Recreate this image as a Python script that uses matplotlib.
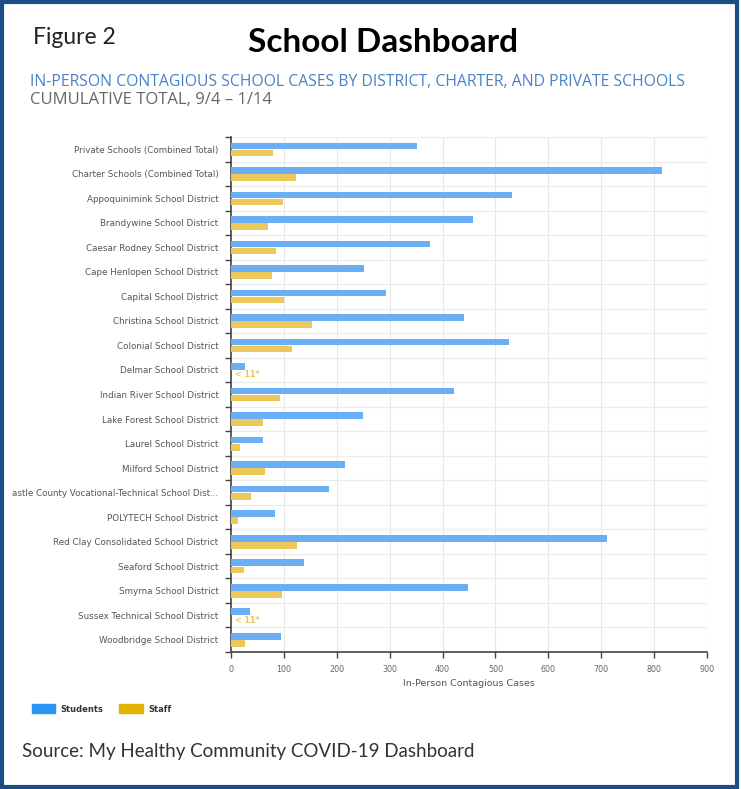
import matplotlib
matplotlib.use("Agg")
import matplotlib.pyplot as plt
import numpy as np
from matplotlib.patches import Rectangle

categories = [
    "Private Schools (Combined Total)",
    "Charter Schools (Combined Total)",
    "Appoquinimink School District",
    "Brandywine School District",
    "Caesar Rodney School District",
    "Cape Henlopen School District",
    "Capital School District",
    "Christina School District",
    "Colonial School District",
    "Delmar School District",
    "Indian River School District",
    "Lake Forest School District",
    "Laurel School District",
    "Milford School District",
    "astle County Vocational-Technical School Dist...",
    "POLYTECH School District",
    "Red Clay Consolidated School District",
    "Seaford School District",
    "Smyrna School District",
    "Sussex Technical School District",
    "Woodbridge School District",
]
students = [351, 814, 531, 458, 376, 252, 293, 440, 525, 26, 422,
            250, 60, 216, 185, 84, 710, 138, 449, 35, 95]
staff = [79, 123, 99, 70, 86, 78, 101, 153, 115, None, 93,
         61, 17, 64, 38, 14, 125, 25, 97, None, 27]
suppressed_label = "< 11*"
x_ticks = [0, 100, 200, 300, 400, 500, 600, 700, 800, 900]

W, H = 741, 789
fig = plt.figure(figsize=(W / 100, H / 100), dpi=100)
fig.patch.set_facecolor("white")

ax = fig.add_axes([231 / W, 1 - 652 / H, (707 - 231) / W, (652 - 137) / H])

n = len(categories)
y = np.arange(n)
blue_bar = "#6aaff6"
gold_bar = "#ecc75a"

ax.barh(y - 0.14, students, height=0.27, color=blue_bar, zorder=3)
staff_vals = [v if v is not None else 0 for v in staff]
ax.barh(y + 0.15, staff_vals, height=0.27, color=gold_bar, zorder=3)
for i, v in enumerate(staff):
    if v is None:
        ax.text(8, i + 0.2, suppressed_label, color="#e9c45a", fontsize=5.8,
                fontweight="bold", va="center", ha="left", zorder=4)

ax.set_xlim(0, 900)
ax.set_ylim(n - 0.5, -0.5)
ax.set_xticks(x_ticks)
ax.set_xticklabels([str(t) for t in x_ticks])
ax.set_yticks(y)
ax.set_yticklabels(categories)
ax.set_yticks(np.arange(n + 1) - 0.5, minor=True)

ax.tick_params(axis="y", which="major", length=0, pad=9, labelsize=6.3,
               labelcolor="#555555")
ax.tick_params(axis="y", which="minor", length=4, width=1, color="#444444")
ax.tick_params(axis="x", which="major", length=4, width=1, color="#444444",
               labelsize=5.8, labelcolor="#666666", pad=5)

ax.grid(axis="x", which="major", color="#e8e8e8", lw=0.8, zorder=0)
ax.grid(axis="y", which="minor", color="#ececec", lw=0.8, zorder=0)
ax.grid(axis="y", which="major", visible=False)

for side in ["top", "right"]:
    ax.spines[side].set_visible(False)
for side in ["left", "bottom"]:
    ax.spines[side].set_color("#444444")
    ax.spines[side].set_linewidth(1.2)

ax.set_xlabel("In-Person Contagious Cases", fontsize=6.8, color="#555555",
              labelpad=4)

# Titles
fig.text(33 / W, 1 - 38 / H, "Figure 2", fontsize=16.5, family="Lato",
         color="#222222", va="center", ha="left")
fig.text(383 / W, 1 - 42 / H, "School Dashboard", fontsize=24, family="Lato",
         fontweight="bold", color="#000000", va="center", ha="center")
fig.text(30 / W, 1 - 82 / H,
         "IN-PERSON CONTAGIOUS SCHOOL CASES BY DISTRICT, CHARTER, AND PRIVATE SCHOOLS",
         fontsize=11.3, family="Open Sans", color="#4a82c4", va="center", ha="left")
fig.text(30 / W, 1 - 100 / H, "CUMULATIVE TOTAL, 9/4 \u2013 1/14",
         fontsize=12, family="Open Sans", color="#666666", va="center", ha="left")

# Legend
fig.patches.append(Rectangle((32 / W, 1 - 713 / H), 23 / W, 9 / H,
                             transform=fig.transFigure, color="#2a93f5"))
fig.text(60 / W, 1 - 709 / H, "Students", fontsize=6, color="#333333",
         va="center", ha="left", fontweight="bold")
fig.patches.append(Rectangle((119 / W, 1 - 713 / H), 24 / W, 9 / H,
                             transform=fig.transFigure, color="#e3b300"))
fig.text(148 / W, 1 - 709 / H, "Staff", fontsize=6, color="#333333",
         va="center", ha="left", fontweight="bold")

# Source
fig.text(22 / W, 1 - 752 / H, "Source: My Healthy Community COVID-19 Dashboard",
         fontsize=13.5, family="Lato", color="#333333", va="center", ha="left")

# Frame border
fig.patches.append(Rectangle((2 / W, 2 / H), (W - 6) / W, (H - 4) / H,
                             transform=fig.transFigure, fill=False,
                             edgecolor="#1c4d85", lw=3, zorder=10))

fig.savefig("out.png", dpi=100, facecolor="white")
